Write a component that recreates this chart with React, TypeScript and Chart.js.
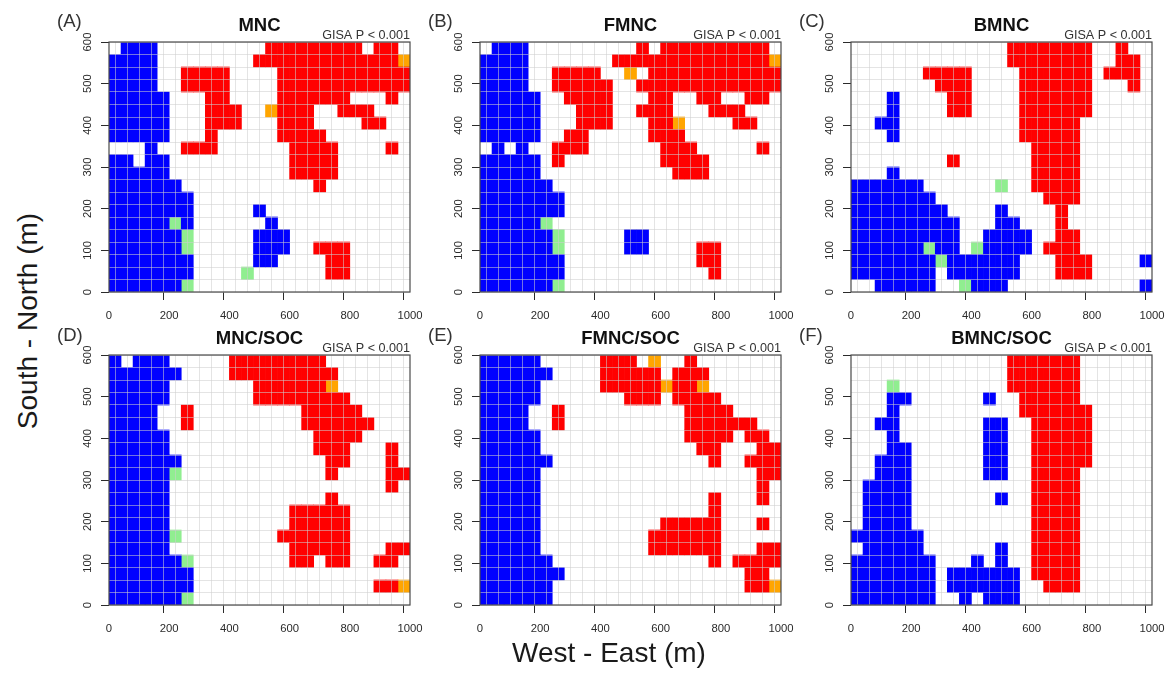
import React, { useEffect, useRef } from "react";
import { Chart, registerables } from "chart.js";

Chart.register(...registerables);

// Each string is one row of the 25 x 20 sampling grid, north (y = 600) first.
// B = blue, R = red, G = light green, O = orange, . = not significant.
const gridA = [
  ".BBB.........RRRRRRRR.RR.",
  "BBBB........RRRRRRRRRRRRO",
  "BBBB..RRRR....RRRRRRRRRRR",
  "BBBB..RRRR....RRRRRRRRRRR",
  "BBBBB...RR....RRRRRR...R.",
  "BBBBB...RRR..ORRR..RRR...",
  "BBBBB...RRR...RRR....RR..",
  "BBBBB...R.....RRRR.......",
  "...B..RRR......RRRR....R.",
  "BB.BB..........RRRR......",
  "BBBBB..........RRRR......",
  "BBBBBB...........R.......",
  "BBBBBBB..................",
  "BBBBBBB.....B............",
  "BBBBBGB......B...........",
  "BBBBBBG.....BBB..........",
  "BBBBBBG.....BBB..RRR.....",
  "BBBBBBB.....BB....RR.....",
  "BBBBBBB....G......RR.....",
  "BBBBBBG..................",
];
const gridB = [
  ".BBB.........R.RRRRRRRRR.",
  "BBBB.......RRRRRRRRRRRRRO",
  "BBBB..RRRR..O.RRRRRRRRRRR",
  "BBBB..RRRRR..RRRRRRRRRRRR",
  "BBBBB..RRRR...RR..RR..RR.",
  "BBBBB...RRR..RRR...RRR...",
  "BBBBB...RRR...RRO....RR..",
  "BBBBB..RR.....RRR........",
  ".B.B..RRR......RRR.....R.",
  "BBBBB.R........RRRR......",
  "BBBBB...........RRR......",
  "BBBBBB...................",
  "BBBBBBB..................",
  "BBBBBBB..................",
  "BBBBBG...................",
  "BBBBBBG.....BB...........",
  "BBBBBBG.....BB....RR.....",
  "BBBBBBB...........RR.....",
  "BBBBBBB............R.....",
  "BBBBBBG..................",
];
const gridC = [
  ".............RRRRRRR..R..",
  ".............RRRRRRR..RR.",
  "......RRRR....RRRRRR.RRR.",
  ".......RRR....RRRRRR...R.",
  "...B....RR....RRRRRR.....",
  "...B....RR....RRRRRR.....",
  "..BB..........RRRRR......",
  "...B..........RRRRR......",
  "...............RRRR......",
  "........R......RRRR......",
  "...B...........RRRR......",
  "BBBBBB......G..RRRR......",
  "BBBBBBB.........RRR......",
  "BBBBBBBB....B....R.......",
  "BBBBBBBBB...BB...R.......",
  "BBBBBBBBB..BBBB..RR......",
  "BBBBBBGBB.GBBBB.RRR......",
  "BBBBBBBGBBBBBB...RRR....B",
  "BBBBBBB.BBBBBB...RRR.....",
  "..BBBBB..GBBB...........B",
];
const gridD = [
  "B.BBB.....RRRRRRRR.......",
  "BBBBBB....RRRRRRRRR......",
  "BBBBB.......RRRRRRO......",
  "BBBBB.......RRRRRRRR.....",
  "BBBB..R.........RRRRR....",
  "BBBB..R.........RRRRRR...",
  "BBBBB............RRRR....",
  "BBBBB............RRR...R.",
  "BBBBBB............RR...R.",
  "BBBBBG............R....RR",
  "BBBBB..................R.",
  "BBBBB.............R......",
  "BBBBB..........RRRRR.....",
  "BBBBB..........RRRRR.....",
  "BBBBBG........RRRRRR.....",
  "BBBBB..........RRRRR...RR",
  "BBBBBBG........RR.RR..RR.",
  "BBBBBBB..................",
  "BBBBBBB...............RRO",
  "BBBBBBG..................",
];
const gridE = [
  "BBBBB.....RRR.O..R.......",
  "BBBBBB....RRRRR.RRR......",
  "BBBBB.....RRRRRORRO......",
  "BBBBB.......RRR.RRRR.....",
  "BBBB..R..........RRRR....",
  "BBBB..R..........RRRRRR..",
  "BBBBB............RRRR.RR.",
  "BBBBB.............RR...RR",
  "BBBBBB.............R..RRR",
  "BBBBB..................RR",
  "BBBBB..................R.",
  "BBBBB..............R...R.",
  "BBBBB..............R.....",
  "BBBBB..........RRRRR...R.",
  "BBBBB.........RRRRRR.....",
  "BBBBB.........RRRRRR...RR",
  "BBBBBB.............R.RRRR",
  "BBBBBBB...............RR.",
  "BBBBBB................RRO",
  "BBBBBB...................",
];
const gridF = [
  ".............RRRRRR......",
  ".............RRRRRR......",
  "...G.........RRRRRR......",
  "...BB......B..RRRRR......",
  "...B..........RRRRRR.....",
  "..BB.......BB..RRRRR.....",
  "...B.......BB..RRRRR.....",
  "...BB......BB..RRRRR.....",
  "..BBB......BB..RRRRR.....",
  "..BBB......BB..RRRR......",
  ".BBBB..........RRRR......",
  ".BBBB.......B..RRRR......",
  ".BBBB..........RRRR......",
  ".BBBB..........RRRR......",
  "BBBBBB.........RRRR......",
  ".BBBBB......B..RRRR......",
  "BBBBBBB...B.B..RRRR......",
  "BBBBBBB.BBBBBB.RRRR......",
  "BBBBBBB.BBBBBB..RRR......",
  "BBBBBBB..B.BBB...........",
];

const panelTags = ["(A)", "(B)", "(C)", "(D)", "(E)", "(F)"];
const panelTitles = ["MNC", "FMNC", "BMNC", "MNC/SOC", "FMNC/SOC", "BMNC/SOC"];
const panelGrids = [gridA, gridB, gridC, gridD, gridE, gridF];
const gisaNote = "GISA P < 0.001";
const cellKeys = ["B", "R", "G", "O"];
const cellColors = ["#0000ff", "#ff0000", "#90ee90", "#ffa500"];
const yTickLabels = [100, 200, 400, 500];
const xLabel = "West - East (m)";
const yLabel = "South - North (m)";

const CELL_X = 40;
const CELL_Y = 30;
const X_MAX = 1000;
const Y_MAX = 600;
const PLOT_W = 301;
const PLOT_H = 250;
const LEFT_M = 60;
const TOP_M = 42;
const BOTTOM_M = 38;
const RIGHT_M = 16;
const plotLefts = [109, 480, 851];
const plotTops = [42, 355];
const FONT = "'Liberation Sans', Arial, sans-serif";
const INK = "#2b2b2b";
const GRID = "rgba(205,205,205,0.55)";
const CLEAR = "rgba(0,0,0,0)";

function cellsOf(rows: string[], key: string) {
  const out: { x: number; y: [number, number] }[] = [];
  rows.forEach((row, r) => {
    row.split("").forEach((c, i) => {
      if (c === key) {
        out.push({
          x: (i + 0.5) * CELL_X,
          y: [Y_MAX - (r + 1) * CELL_Y, Y_MAX - r * CELL_Y],
        });
      }
    });
  });
  return out;
}

const boxPlugin = {
  id: "plotBox",
  afterDraw(chart: any) {
    const { ctx, chartArea: a } = chart;
    ctx.save();
    ctx.strokeStyle = "#4a4a4a";
    ctx.lineWidth = 1.2;
    ctx.strokeRect(a.left, a.top, a.right - a.left, a.bottom - a.top);
    ctx.restore();
  },
};

function Panel({ index }: { index: number }) {
  const ref = useRef<HTMLCanvasElement>(null);
  useEffect(() => {
    const rows = panelGrids[index];
    const chart = new Chart(ref.current!, {
      type: "bar",
      data: {
        datasets: cellKeys.map((k, i) => ({
          label: k,
          data: cellsOf(rows, k) as any,
          backgroundColor: cellColors[i],
          borderWidth: 0,
          barThickness: PLOT_W / (X_MAX / CELL_X),
          grouped: false,
        })),
      },
      plugins: [boxPlugin],
      options: {
        responsive: false,
        animation: false,
        events: [],
        layout: { padding: { right: RIGHT_M, top: 0, left: 0, bottom: 0 } },
        plugins: {
          legend: { display: false },
          tooltip: { enabled: false },
          title: {
            display: true,
            text: panelTitles[index],
            fullSize: false,
            color: "#111",
            font: { family: FONT, size: 18.5, weight: "bold", lineHeight: 1 },
            padding: { top: 17, bottom: -6.5 },
          },
          subtitle: {
            display: true,
            text: gisaNote,
            align: "end",
            fullSize: false,
            color: "#333",
            font: { family: FONT, size: 12.6, lineHeight: 1 },
            padding: { top: 0, bottom: 0.4 },
          },
        },
        scales: {
          x: {
            type: "linear",
            min: 0,
            max: X_MAX,
            offset: false,
            afterFit(s: any) {
              s.height = BOTTOM_M;
              s.paddingLeft = 0;
              s.paddingRight = 0;
            },
            border: { display: false },
            grid: {
              z: 1,
              color: GRID,
              lineWidth: 1,
              tickLength: 8,
              tickColor: (c: any) =>
                c.tick && c.tick.value % 200 === 0 ? INK : CLEAR,
            },
            ticks: {
              stepSize: CELL_X,
              autoSkip: false,
              maxRotation: 0,
              minRotation: 0,
              padding: 9.5,
              color: INK,
              font: { family: FONT, size: 11.3 },
              callback: (v: any) => (v % 200 === 0 ? String(v) : ""),
            },
          },
          y: {
            type: "linear",
            min: 0,
            max: Y_MAX,
            afterFit(s: any) {
              s.width = LEFT_M;
              s.paddingTop = 0;
              s.paddingBottom = 0;
            },
            // cell boundaries fall on 30 m steps, labelled ticks on 100 m steps
            afterBuildTicks(s: any) {
              const extra = yTickLabels.map((value) => ({ value }));
              s.ticks = [...s.ticks, ...extra].sort((a, b) => a.value - b.value);
            },
            border: { display: false },
            grid: {
              z: 1,
              color: (c: any) =>
                c.tick && c.tick.value % CELL_Y === 0 ? GRID : CLEAR,
              lineWidth: 1,
              tickLength: 8,
              tickColor: (c: any) =>
                c.tick && c.tick.value % 100 === 0 ? INK : CLEAR,
            },
            ticks: {
              stepSize: CELL_Y,
              autoSkip: false,
              minRotation: 90,
              maxRotation: 90,
              crossAlign: "center",
              padding: 4,
              color: INK,
              font: { family: FONT, size: 11.3 },
              callback: (v: any) => (v % 100 === 0 ? String(v) : ""),
            },
          },
        },
      } as any,
    });
    return () => chart.destroy();
  }, [index]);

  const col = index % 3;
  const row = Math.floor(index / 3);
  return (
    <canvas
      ref={ref}
      width={LEFT_M + PLOT_W + RIGHT_M}
      height={TOP_M + PLOT_H + BOTTOM_M}
      style={{
        position: "absolute",
        left: plotLefts[col] - LEFT_M,
        top: plotTops[row] - TOP_M,
        display: "block",
      }}
    />
  );
}

export default function App() {
  const text: React.CSSProperties = {
    position: "absolute",
    fontFamily: FONT,
    color: "#1a1a1a",
    whiteSpace: "nowrap",
    lineHeight: 1,
  };
  return (
    <div style={{ position: "absolute", left: 0, top: 0, width: 1174, height: 673, background: "#fff", overflow: "hidden" }}>
      {panelTags.map((_, i) => (
        <Panel key={i} index={i} />
      ))}
      {panelTags.map((t, i) => (
        <span
          key={t}
          style={{
            ...text,
            fontSize: 18.5,
            color: "#333",
            left: plotLefts[i % 3] - 52,
            top: Math.floor(i / 3) === 0 ? 12 : 326,
          }}
        >
          {t}
        </span>
      ))}
      <span style={{ ...text, fontSize: 28, left: 512, top: 639 }}>{xLabel}</span>
      <span
        style={{
          ...text,
          fontSize: 28,
          left: 28,
          top: 320.5,
          transform: "translate(-50%,-50%) rotate(-90deg)",
        }}
      >
        {yLabel}
      </span>
    </div>
  );
}
